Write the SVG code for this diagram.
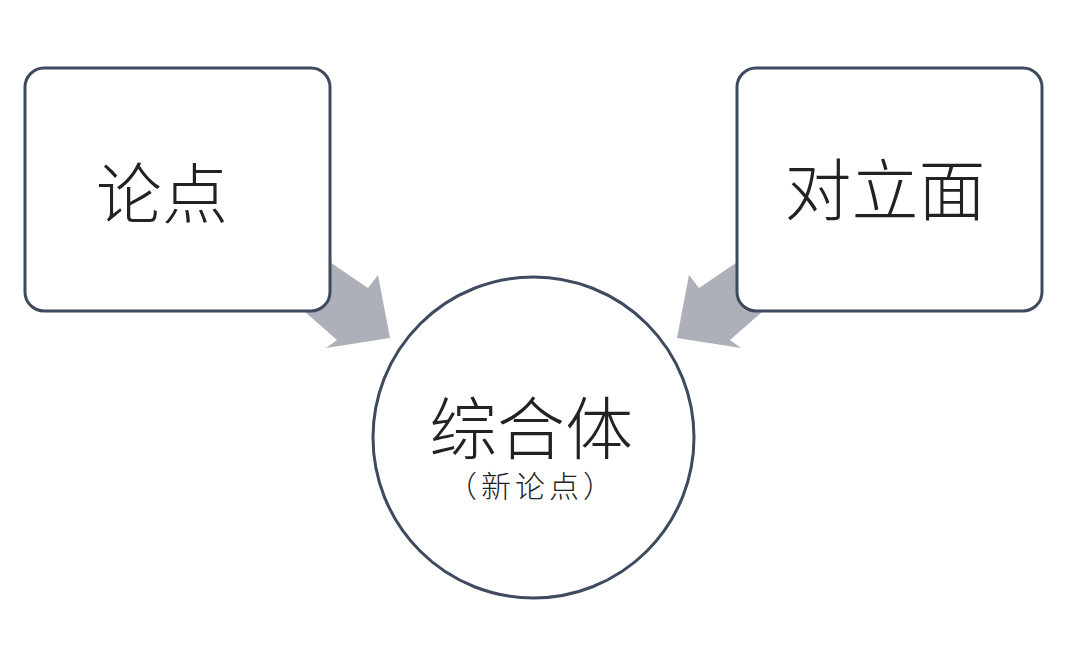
<svg xmlns="http://www.w3.org/2000/svg" width="1080" height="652" viewBox="0 0 1080 652">
<style>
.arrow{fill:#adb0b8;stroke:none}
.box{fill:#ffffff;stroke:#3e4a5e;stroke-width:3}
.t{font-family:"Noto Sans CJK SC","Noto Sans",sans-serif;fill:#222222;text-anchor:middle;font-weight:300}
</style>
<rect width="1080" height="652" fill="#ffffff"/>
<g id="connectors">
<polygon class="arrow" points="290,235 368,288 378,275 390,338 326,348 337,340 280,290"/>
<polygon class="arrow" points="777,235 699,288 689,275 677,338 741,348 730,340 787,290"/>
</g>
<g id="node-thesis">
<rect class="box" x="25" y="68" width="305" height="243" rx="19"/>
<text class="t" x="162" y="218" font-size="66">论点</text>
</g>
<g id="node-antithesis">
<rect class="box" x="737" y="68" width="305" height="243" rx="19"/>
<text class="t" x="885" y="215" font-size="67">对立面</text>
</g>
<g id="node-synthesis">
<circle class="box" cx="533.5" cy="437.5" r="160.5"/>
<text class="t"><tspan x="531" y="454" font-size="68">综合体</tspan><tspan x="532" y="497" font-size="30" letter-spacing="4">（新论点）</tspan></text>
</g>
</svg>
